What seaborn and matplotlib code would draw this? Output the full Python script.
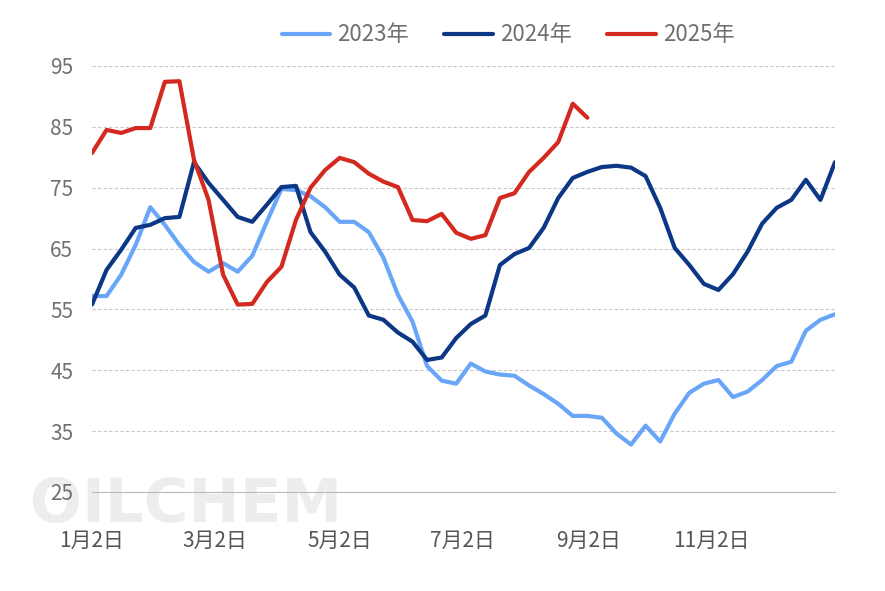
import numpy as np
import pandas as pd
import matplotlib
matplotlib.use("Agg")
from matplotlib import pyplot as plt
import seaborn as sns

sns.set_style("white")
plt.rcParams['font.family'] = ['Noto Sans CJK SC', 'DejaVu Sans']

v2023 = [57.2, 57.2, 60.7, 65.6, 71.8, 68.9, 65.6, 62.8, 61.2, 62.6, 61.2, 63.8, 69.4, 74.8,
         74.6, 73.6, 71.8, 69.4, 69.4, 67.7, 63.5, 57.4, 53.0, 45.7, 43.3, 42.8, 46.1, 44.8,
         44.3, 44.1, 42.5, 41.1, 39.5, 37.5, 37.5, 37.2, 34.6, 32.8, 35.9, 33.3, 37.9, 41.3,
         42.8, 43.4, 40.6, 41.5, 43.4, 45.7, 46.4, 51.5, 53.3, 54.2]
v2024 = [55.8, 61.5, 64.8, 68.4, 68.9, 70.0, 70.2, 79.2, 75.8, 73.0, 70.2, 69.4, 72.2, 75.1,
         75.3, 67.7, 64.5, 60.7, 58.6, 54.0, 53.3, 51.2, 49.7, 46.7, 47.1, 50.3, 52.6, 54.0,
         62.3, 64.1, 65.1, 68.4, 73.3, 76.6, 77.6, 78.4, 78.6, 78.3, 76.9, 71.7, 65.1, 62.3,
         59.2, 58.2, 60.8, 64.5, 69.1, 71.7, 73.0, 76.3, 73.0, 79.2]
v2025 = [80.7, 84.5, 84.0, 84.8, 84.8, 92.4, 92.5, 79.6, 73.0, 60.7, 55.8, 55.9, 59.5, 62.0,
         69.7, 75.0, 77.9, 79.9, 79.2, 77.3, 76.0, 75.1, 69.7, 69.5, 70.7, 67.6, 66.6, 67.2,
         73.3, 74.1, 77.6, 79.9, 82.5, 88.8, 86.5]
tick_labels = ["1月2日", "3月2日", "5月2日", "7月2日", "9月2日", "11月2日"]
tick_pos = [0, 8.42, 16.99, 25.4, 34.1, 42.5]
yticks = [25, 35, 45, 55, 65, 75, 85, 95]

df = pd.concat([
    pd.DataFrame({"week": np.arange(len(v)), "value": v, "year": name})
    for name, v in [("2023年", v2023), ("2024年", v2024), ("2025年", v2025)]
])
palette = {"2023年": "#6aa6f8", "2024年": "#0b3784", "2025年": "#d3291f"}

fig = plt.figure(figsize=(8.85, 5.91), dpi=100)
ax = fig.add_axes([92 / 885, 1 - 492 / 591, (835 - 92) / 885, (492 - 66) / 591])

# faint watermark behind everything
fig.text(0.21, 0.145, "OILCHEM", fontsize=44, color="#000000", alpha=0.07, ha="center",
         va="center", fontweight="bold", family="DejaVu Sans", zorder=-10)

sns.lineplot(data=df, x="week", y="value", hue="year", palette=palette, linewidth=3.0, ax=ax)

ax.set_ylim(25, 95)
ax.set_xlim(0, 51)
ax.set_yticks(yticks)
ax.set_yticklabels([str(t) for t in yticks], fontsize=15, color="#707070")
ax.set_xticks(tick_pos)
ax.set_xticklabels(tick_labels, fontsize=15, color="#555555")
ax.tick_params(axis="x", length=5, color="#bbbbbb", pad=22)
ax.tick_params(axis="y", length=0, pad=30)
for t in ax.get_yticklabels():
    t.set_horizontalalignment("left")
ax.yaxis.grid(True, linestyle=(0, (3, 2)), color="#c8c8c8", linewidth=0.8)
for s in ["left", "right", "top"]:
    ax.spines[s].set_visible(False)
ax.spines["bottom"].set_color("#bbbbbb")
ax.set_xlabel("")
ax.set_ylabel("")
ax.patch.set_alpha(0)

ax.legend(loc="lower center", bbox_to_anchor=(0.56, 1.02), ncol=3, frameon=False,
          fontsize=16, labelcolor="#707070", handlelength=2.2, columnspacing=1.6,
          handletextpad=0.3, borderaxespad=0.1)

fig.savefig("out.png", dpi=100)
